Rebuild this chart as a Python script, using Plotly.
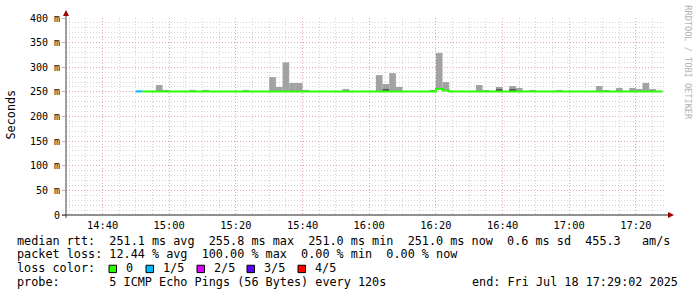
import pandas as pd
import plotly.graph_objects as go

# ---------------- data ----------------
window_start = "2025-07-18 14:29:02"
window_end = "2025-07-18 17:29:02"
first_interval = "2025-07-18 14:50:00"
interval = "2min"

# median rtt per 2-minute interval (ms), 14:50 .. 17:26
median_ms = [
    251.0, 251.0, 251.0, 251.0, 251.0, 251.0, 251.0, 251.0, 251.0, 251.0,
    251.0, 251.0, 251.0, 251.0, 251.0, 251.0, 251.0, 251.0, 251.0, 251.0,
    251.0, 251.0, 251.0, 251.0, 251.0, 251.0, 251.0, 251.0, 251.0, 251.0,
    251.0, 251.0, 251.0, 251.0, 251.0, 251.0, 251.0, 251.0, 251.0, 251.0,
    251.0, 251.0, 251.0, 251.0, 251.0, 255.8, 252.6, 251.0, 251.0, 251.0,
    251.0, 251.0, 251.0, 251.0, 251.0, 251.0, 251.0, 251.0, 251.0, 251.0,
    251.0, 251.0, 251.0, 251.0, 251.0, 251.0, 251.0, 251.0, 251.0, 251.0,
    251.0, 251.0, 251.0, 251.0, 251.0, 251.0, 251.0, 251.0, 251.0,
]
# lost pings (of 5) per interval
loss_count = [
    1, 0, 0, 0, 0, 0, 0, 0, 0, 0,
    0, 0, 0, 0, 0, 0, 0, 0, 0, 0,
    0, 0, 0, 0, 0, 0, 0, 0, 0, 0,
    0, 0, 0, 0, 0, 0, 0, 0, 0, 0,
    0, 0, 0, 0, 0, 0, 0, 0, 0, 0,
    0, 0, 0, 0, 0, 0, 0, 0, 0, 0,
    0, 0, 0, 0, 0, 0, 0, 0, 0, 0,
    0, 0, 0, 0, 0, 0, 0, 0, 0,
]

# smoke (spread of the pings above the median)
smoke_times = ["14:56", "14:58", "15:06", "15:10", "15:22", "15:30", "15:32",
               "15:34", "15:36", "15:38", "15:40", "15:52", "16:02", "16:04",
               "16:06", "16:08", "16:18", "16:20", "16:22", "16:32", "16:34",
               "16:38", "16:42", "16:44", "16:48", "16:56", "17:08", "17:10",
               "17:14", "17:18", "17:20", "17:22", "17:24"]
smoke_top_ms = [264, 254, 254, 254, 254, 280, 260,
                310, 268, 268, 254, 256, 284, 266,
                288, 260, 254, 329, 270, 264, 254,
                260, 262, 258, 254, 254, 262, 254,
                258, 258, 256, 268, 256]
dense_times = ["16:04", "16:38", "16:42"]
dense_low_ms = [252.5, 252.5, 252.5]
dense_high_ms = [256.0, 254.0, 254.0]

loss_names = ["0", "1/5", "2/5", "3/5", "4/5"]
loss_colors = ["#26ff00", "#00b8ff", "#dd00ff", "#5e00ff", "#ff0000"]

y_tick_vals = [0, 50, 100, 150, 200, 250, 300, 350, 400]
y_tick_text = ["0", "50 m", "100 m", "150 m", "200 m", "250 m", "300 m", "350 m", "400 m"]

stats_line1 = "median rtt:  251.1 ms avg  255.8 ms max  251.0 ms min  251.0 ms now  0.6 ms sd  455.3   am/s"
stats_line2 = "packet loss: 12.44 % avg  100.00 % max  0.00 % min  0.00 % now"
loss_label = "loss color:"
probe_line = "probe:       5 ICMP Echo Pings (56 Bytes) every 120s"
end_line = "end: Fri Jul 18 17:29:02 2025"
watermark = "RRDTOOL / TOBI OETIKER"
y_title = "Seconds"

# ---------------- layout geometry (pixels) ----------------
W, H = 697, 297
PL, PR, PT, PB = 66, 666, 15, 215
MONO = "DejaVu Sans Mono"


def px(x):
    return (x - PL) / (PR - PL)


def py(y):
    return (PB - y) / (PB - PT)


def nb(s):
    return s.replace(" ", "\u00a0")


times = pd.date_range(first_interval, periods=len(median_ms), freq=interval)
step = pd.Timedelta(interval)
med_by_time = dict(zip(times.strftime("%H:%M"), median_ms))
day = times[0].strftime("%Y-%m-%d")

fig = go.Figure()

# smoke bars
s_x = [pd.Timestamp(f"{day} {t}") + step / 2 for t in smoke_times]
s_base = [med_by_time[t] for t in smoke_times]
fig.add_trace(go.Bar(
    x=s_x, base=s_base, y=[top - b for top, b in zip(smoke_top_ms, s_base)],
    width=step.total_seconds() * 1000, marker=dict(color="#a2a2a2", line=dict(width=0)),
    showlegend=False, hoverinfo="skip"))
d_x = [pd.Timestamp(f"{day} {t}") + step / 2 for t in dense_times]
fig.add_trace(go.Bar(
    x=d_x, base=dense_low_ms, y=[h - l for h, l in zip(dense_high_ms, dense_low_ms)],
    width=step.total_seconds() * 1000, marker=dict(color="#565656", line=dict(width=0)),
    showlegend=False, hoverinfo="skip"))

# median line, coloured by loss
i = 0
while i < len(median_ms):
    j = i
    while j < len(median_ms) and loss_count[j] == loss_count[i]:
        j += 1
    xs = list(times[i:j]) + [times[j - 1] + step]
    ys = median_ms[i:j] + [median_ms[j - 1]]
    fig.add_trace(go.Scatter(x=xs, y=ys, mode="lines", line_shape="hv",
                             line=dict(color=loss_colors[loss_count[i]], width=2),
                             showlegend=False, hoverinfo="skip"))
    i = j

shapes = []
# axes with arrows
shapes.append(dict(type="line", xref="paper", yref="paper", x0=px(66), x1=px(66),
                   y0=py(218), y1=py(12), line=dict(color="#404040", width=1), layer="above"))
shapes.append(dict(type="line", xref="paper", yref="paper", x0=px(62), x1=px(670),
                   y0=py(215), y1=py(215), line=dict(color="#202020", width=1), layer="above"))
shapes.append(dict(type="path", xref="paper", yref="paper",
                   path=f"M {px(63)} {py(13)} L {px(69)} {py(13)} L {px(66)} {py(7)} Z",
                   fillcolor="#a00000", line=dict(width=0), layer="above"))
shapes.append(dict(type="path", xref="paper", yref="paper",
                   path=f"M {px(668)} {py(212)} L {px(668)} {py(218)} L {px(674)} {py(215)} Z",
                   fillcolor="#a00000", line=dict(width=0), layer="above"))

annotations = []
line_y = [241, 255, 269, 283.5]


def txt(x, y, s, size=11.8, color="#000000", anchor="left", angle=0):
    annotations.append(dict(x=px(x), y=py(y), xref="paper", yref="paper", text=nb(s),
                            showarrow=False, xanchor=anchor, yanchor="middle",
                            textangle=angle, font=dict(family=MONO, size=size, color=color)))


txt(15, line_y[0], stats_line1)
txt(15, line_y[1], stats_line2)
txt(15, line_y[2], loss_label)
txt(15, line_y[3], probe_line)
txt(680, line_y[3], end_line, anchor="right")

sq_x = [109, 146, 197, 247, 298]
for k, (name, col) in enumerate(zip(loss_names, loss_colors)):
    x0 = sq_x[k]
    shapes.append(dict(type="rect", xref="paper", yref="paper",
                       x0=px(x0), x1=px(x0 + 7.5), y0=py(273.5), y1=py(266),
                       fillcolor=col, line=dict(color="#000000", width=1), layer="above"))
    txt(x0 + 14.5, line_y[2], name)

annotations.append(dict(x=px(11), y=py(113), xref="paper", yref="paper", text=y_title,
                        showarrow=False, xanchor="center", yanchor="middle", textangle=-90,
                        font=dict(family=MONO, size=11.8, color="#000000")))
annotations.append(dict(x=px(688), y=py(60), xref="paper", yref="paper", text=nb(watermark),
                        showarrow=False, xanchor="center", yanchor="middle", textangle=90,
                        font=dict(family=MONO, size=8.6, color="#b4b4b4")))

fig.update_layout(
    width=W, height=H,
    margin=dict(l=PL, r=W - PR, t=PT, b=H - PB, pad=0),
    paper_bgcolor="#ffffff", plot_bgcolor="#ffffff",
    barmode="overlay", showlegend=False,
    shapes=shapes, annotations=annotations,
    xaxis=dict(type="date", range=[window_start, window_end], showline=False, zeroline=False,
               tick0=f"{day} 14:40:00", dtick=20 * 60 * 1000, tickformat="%H:%M",
               ticks="outside", ticklen=1, tickcolor="rgba(0,0,0,0)",
               tickfont=dict(family=MONO, size=10.4, color="#000000"),
               showgrid=True, gridcolor="#e2a6a6", gridwidth=1, griddash="1px,2px",
               minor=dict(tick0=f"{day} 14:40:00", dtick=5 * 60 * 1000, showgrid=True,
                          gridcolor="#d4d4d4", gridwidth=1, griddash="1px,2px"),
               fixedrange=True),
    yaxis=dict(range=[0, 400], showline=False, zeroline=False,
               tickmode="array", tickvals=y_tick_vals, ticktext=[nb(t) for t in y_tick_text],
               ticks="outside", ticklen=3, tickcolor="#e2a6a6",
               tickfont=dict(family=MONO, size=10, color="#000000"),
               showgrid=True, gridcolor="#e2a6a6", gridwidth=1, griddash="1px,2px",
               minor=dict(dtick=10, tick0=0, showgrid=True, gridcolor="#d4d4d4",
                          gridwidth=1, griddash="1px,2px"),
               fixedrange=True),
)

fig.write_html("out.html")
